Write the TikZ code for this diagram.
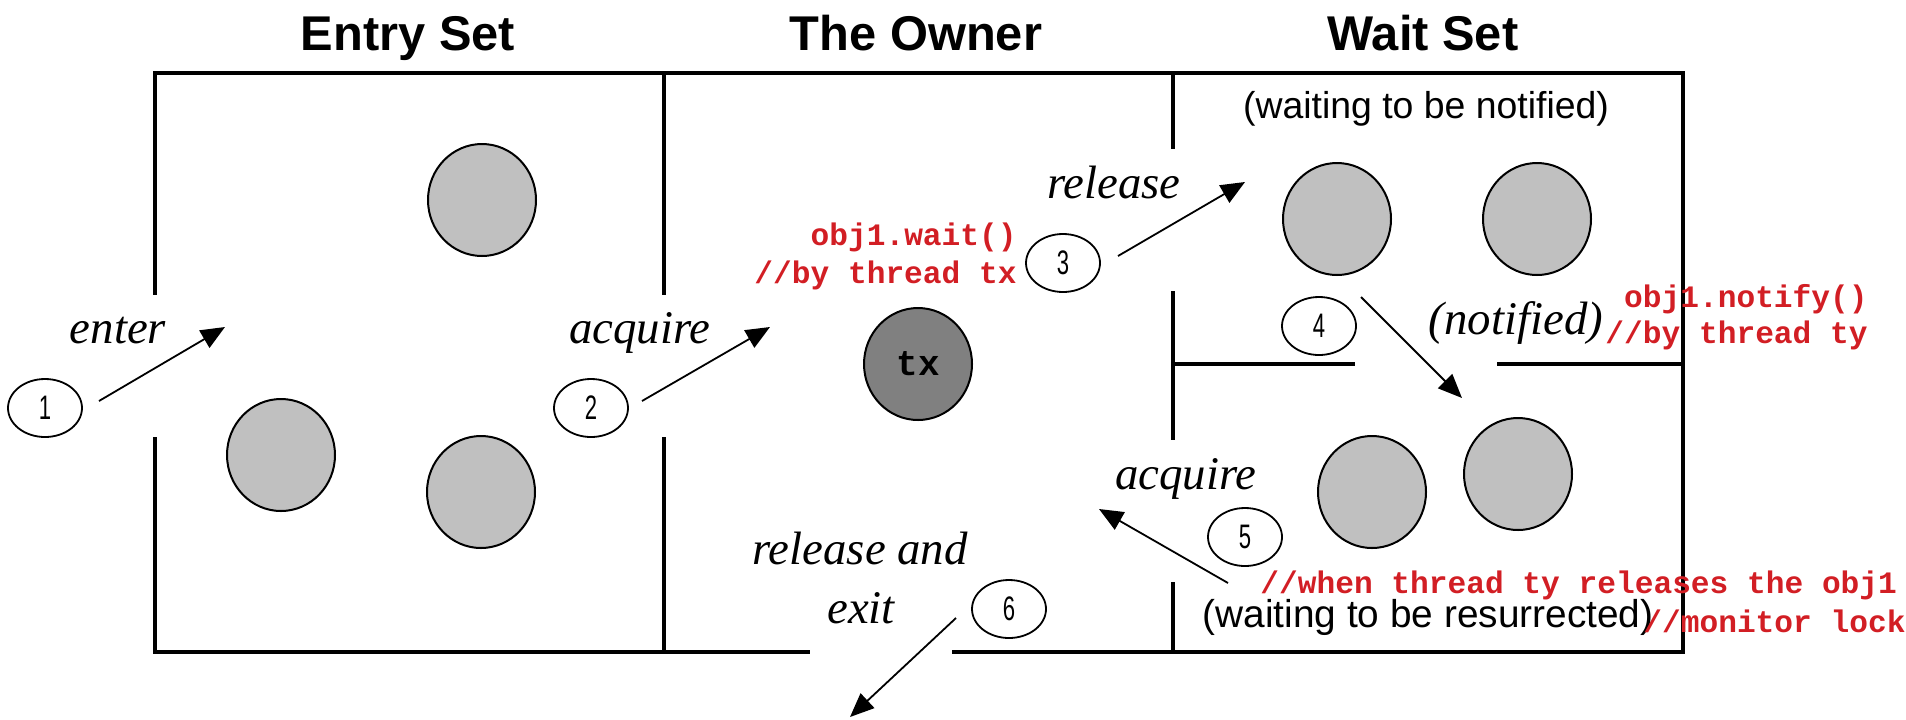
\documentclass[tikz,border=0pt]{standalone}
\usepackage{fontspec}
\setmainfont{Liberation Sans}
\newfontfamily\italfont{Liberation Serif}
\newfontfamily\codefont{Liberation Mono}
\newfontfamily\numfont[FakeStretch=0.65]{Liberation Sans}
\usetikzlibrary{shapes.geometric,arrows.meta}
\definecolor{codered}{RGB}{210,30,36}
\definecolor{ballgray}{RGB}{192,192,192}
\definecolor{ownergray}{RGB}{128,128,128}

\begin{document}
\begin{tikzpicture}[x=0.5pt,y=-0.5pt]
    \tikzset{Ball/.style={%
        shape=ellipse,%
        draw=black,%
        line width=1pt,%
        fill=ballgray,%
        minimum width=54pt,%
        minimum height=56pt,%
        inner sep=0pt,%
    }}
    \tikzset{NumCircle/.style={%
        shape=ellipse,%
        draw=black,%
        line width=0.9pt,%
        minimum width=37pt,%
        minimum height=29pt,%
        inner sep=0pt,%
        font=\numfont\fontsize{17}{17}\selectfont,%
    }}
    \tikzset{Title/.style={inner sep=0pt, anchor=base, font=\bfseries\fontsize{24.4}{28}\selectfont}}
    \tikzset{Note/.style={inner sep=0pt, anchor=base, font=\fontsize{18.7}{20}\selectfont}}
    \tikzset{Label/.style={inner sep=0pt, anchor=base, font=\italfont\itshape\fontsize{23.4}{26}\selectfont}}
    \tikzset{Code/.style={inner sep=0pt, text=codered, font=\codefont\bfseries\fontsize{15.6}{18}\selectfont}}
    \tikzset{Wall/.style={line width=1.6pt, line cap=rect}}
    \tikzset{Flow/.style={-{Triangle[length=12pt,width=10pt]}, line width=0.9pt}}

    \useasboundingbox (0,0) rectangle (1906,719);

    % the three rooms
    \draw[Wall] (155,293) -- (155,73) -- (1683,73) -- (1683,652) -- (954,652);
    \draw[Wall] (808,652) -- (155,652) -- (155,439);
    \draw[Wall] (664,73) -- (664,293);
    \draw[Wall] (664,439) -- (664,652);
    \draw[Wall] (1173,73) -- (1173,147);
    \draw[Wall] (1173,293) -- (1173,438);
    \draw[Wall] (1173,584) -- (1173,652);
    \draw[Wall] (1173,364) -- (1353,364);
    \draw[Wall] (1499,364) -- (1683,364);

    \node[Title] (entry) at (408,50) {Entry Set};
    \node[Title] (owner) at (916,50) {The Owner};
    \node[Title] (wait) at (1423,50) {Wait Set};

    \node[Note] (notified) at (1426,118) {(waiting to be notified)};
    \node[Note, font=\fontsize{19.4}{21}\selectfont] (resurrect) at (1428,627) {(waiting to be resurrected)};

    % threads
    \node[Ball] (e1) at (482,200) {};
    \node[Ball] (e2) at (281,455) {};
    \node[Ball] (e3) at (481,492) {};
    \node[Ball, fill=ownergray, font=\codefont\bfseries\fontsize{18}{18}\selectfont] (tx) at (918,364) {tx};
    \node[Ball] (w1) at (1337,219) {};
    \node[Ball] (w2) at (1537,219) {};
    \node[Ball] (w3) at (1372,492) {};
    \node[Ball] (w4) at (1518,474) {};

    \node[NumCircle] (n1) at (45,408) {1};
    \node[NumCircle] (n2) at (591,408) {2};
    \node[NumCircle] (n3) at (1063,263) {3};
    \node[NumCircle] (n4) at (1319,326) {4};
    \node[NumCircle] (n5) at (1245,537) {5};
    \node[NumCircle] (n6) at (1009,609) {6};

    \node[Label] (lenter) at (118,343) {enter};
    \node[Label] (lacq) at (640,343) {acquire};
    \node[Label] (lrel) at (1114,198) {release};
    \node[Label] (lnot) at (1516,334) {(notified)};
    \node[Label] (lacq2) at (1186,489) {acquire};
    \node[Label] (lrelx) at (860,564) {release and};
    \node[Label] (lexit) at (861,623) {exit};

    \coordinate (a1s) at (99,401);   \coordinate (a1e) at (225,327);
    \coordinate (a2s) at (642,401);  \coordinate (a2e) at (770,327);
    \coordinate (a3s) at (1118,256); \coordinate (a3e) at (1245,182);
    \coordinate (a4s) at (1361,297); \coordinate (a4e) at (1462,398);
    \coordinate (a5s) at (1228,583); \coordinate (a5e) at (1099,509);
    \coordinate (a6s) at (956,618);  \coordinate (a6e) at (850,717);

    \path (a1s) edge[Flow] (a1e);
    \path (a2s) edge[Flow] (a2e);
    \path (a3s) edge[Flow] (a3e);
    \path (a4s) edge[Flow] (a4e);
    \path (a5s) edge[Flow] (a5e);
    \path (a6s) edge[Flow] (a6e);

    % added comments in red
    \node[Code, anchor=base east] (waitcall) at (1017,245) {obj1.wait()};
    \node[Code, anchor=base east] (waitby) at (1017,283) {//by thread tx};
    \node[Code, anchor=base east] (notifycall) at (1868,307) {obj1.notify()};
    \node[Code, anchor=base east] (notifyby) at (1868,343) {//by thread ty};
    \node[Code, anchor=base west] (when) at (1260,593) {//when thread ty releases the obj1};
    \node[Code, anchor=base west] (lock) at (1643,632) {//monitor lock};
\end{tikzpicture}
\end{document}
